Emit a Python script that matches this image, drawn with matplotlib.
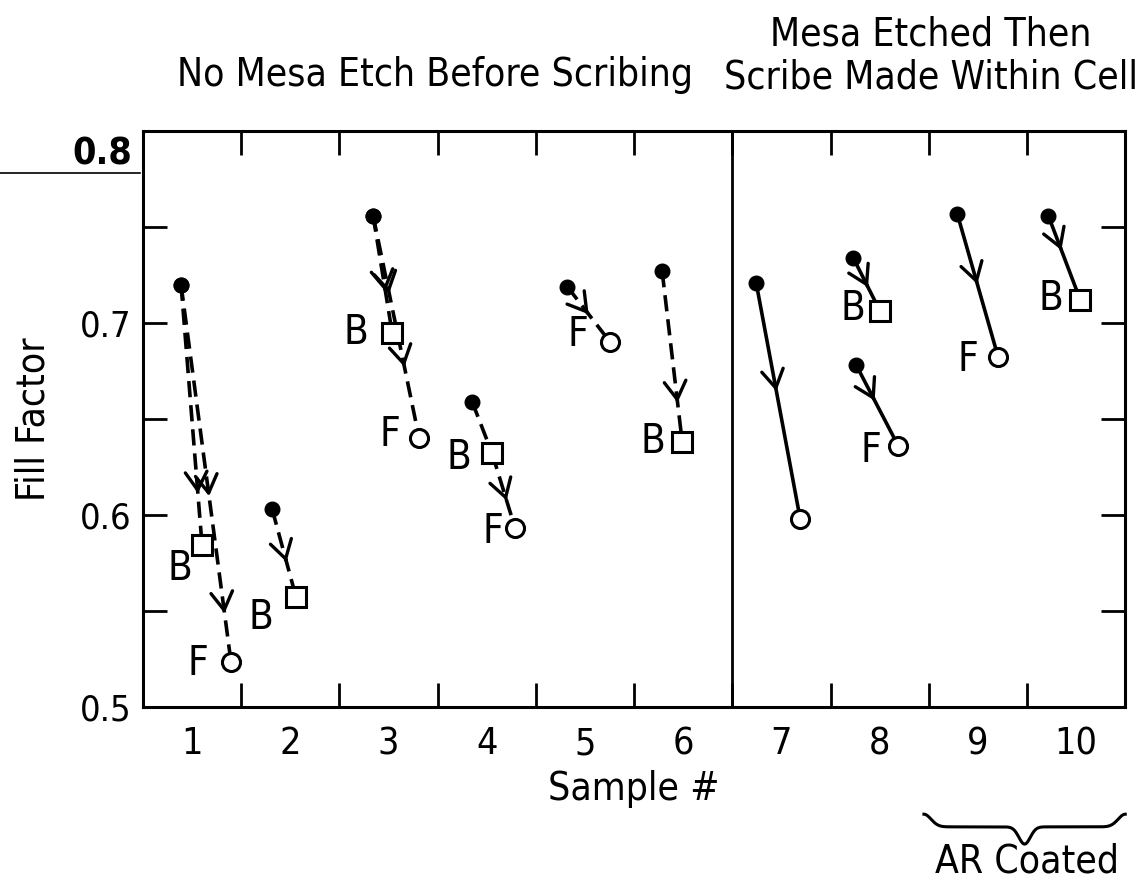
import numpy as np
import matplotlib.pyplot as plt
from matplotlib.lines import Line2D

plt.rcParams['font.family'] = ['DejaVu Sans']
plt.rcParams['font.stretch'] = 'condensed'

# Fill factor before (filled dot) and after (square = back, circle = front scribe)
# each entry: start x, start y, end x, end y
seg_x0 = [0.887, 0.887, 1.814, 2.842, 2.842, 3.850, 4.054, 4.818, 5.785,
          6.742, 7.730, 7.761, 8.789, 9.716]
seg_y0 = [0.720, 0.720, 0.603, 0.756, 0.756, 0.659, 0.632, 0.719, 0.727,
          0.721, 0.734, 0.678, 0.757, 0.756]
seg_x1 = [1.101, 1.396, 2.058, 3.036, 3.311, 4.054, 4.288, 5.256, 5.989,
          7.190, 8.005, 8.188, 9.207, 10.042]
seg_y1 = [0.584, 0.523, 0.557, 0.695, 0.640, 0.632, 0.593, 0.690, 0.638,
          0.598, 0.706, 0.636, 0.682, 0.712]
seg_end = ['B', 'F', 'B', 'B', 'F', 'B', 'F', 'F', 'B',
           'F', 'B', 'F', 'F', 'B']
seg_dot = [True] * 6 + [False] + [True] * 7
seg_solid = [False] * 9 + [True] * 5
# arrow head positions as fraction along each segment
seg_arrows = [[0.8], [0.56, 0.87], [0.6], [0.65], [0.35, 0.68], [], [0.63],
              [0.5], [0.77], [0.46], [0.55], [0.44], [0.49], [0.41]]
# offset (points) of the B/F letter from the segment end
lab_off = [(-16, -17), (-24, -1), (-25, -15), (-26, 0), (-21, 2), (-24, -3),
           (-16, -3), (-23, 5), (-21, 0), None, (-20, 2), (-20, -4),
           (-22, -2), (-21, 1)]

samples = list(range(1, 11))
yticks = [0.5, 0.6, 0.7, 0.8]

fig = plt.figure(figsize=(11.48, 8.86), dpi=100)
ax = fig.add_axes([0.1246, 0.2025, 0.8556, 0.6495])
ax.set_xlim(0.5, 10.5)
ax.set_ylim(0.5, 0.8)

for i in range(len(seg_x0)):
    ls = '-' if seg_solid[i] else (0, (4.5, 2.2))
    ax.plot([seg_x0[i], seg_x1[i]], [seg_y0[i], seg_y1[i]], color='black',
            lw=2.6, ls=ls, zorder=2, solid_capstyle='butt')
    for f in seg_arrows[i]:
        tx = seg_x0[i] + f * (seg_x1[i] - seg_x0[i])
        ty = seg_y0[i] + f * (seg_y1[i] - seg_y0[i])
        sx = seg_x0[i] + (f - 0.02) * (seg_x1[i] - seg_x0[i])
        sy = seg_y0[i] + (f - 0.02) * (seg_y1[i] - seg_y0[i])
        ax.annotate('', xy=(tx, ty), xytext=(sx, sy),
                    arrowprops=dict(arrowstyle='->,head_length=0.5,head_width=0.3',
                                    lw=2.4, color='black', shrinkA=0, shrinkB=0,
                                    mutation_scale=26), zorder=3)
    if seg_dot[i]:
        ax.plot(seg_x0[i], seg_y0[i], 'o', ms=10.5, color='black', zorder=4)
    if seg_end[i] == 'B':
        ax.plot(seg_x1[i], seg_y1[i], 's', ms=14, mfc='white', mec='black',
                mew=2.2, zorder=4)
    else:
        ax.plot(seg_x1[i], seg_y1[i], 'o', ms=13, mfc='white', mec='black',
                mew=2.2, zorder=4)
    if lab_off[i] is not None:
        ax.annotate(seg_end[i], (seg_x1[i], seg_y1[i]), xytext=lab_off[i],
                    textcoords='offset points', ha='center', va='center',
                    fontsize=29)

ax.axvline(6.5, color='black', lw=2)

ax.set_xticks(samples)
ax.set_xticklabels([str(s) for s in samples], fontsize=27)
ax.set_xticks(np.arange(1.5, 10.5, 1.0), minor=True)
ax.set_yticks(yticks)
ax.set_yticklabels([str(v) for v in yticks[:-1]] + [''], fontsize=26)
ax.set_yticks([0.55, 0.65, 0.75], minor=True)
ax.tick_params(axis='x', which='major', length=0, pad=14)
ax.tick_params(axis='x', which='minor', direction='in', length=17, width=2,
               top=True, bottom=True)
ax.tick_params(axis='y', which='both', direction='in', length=17, width=2,
               left=True, right=True, pad=8)
for s in ax.spines.values():
    s.set_linewidth(2.2)

# the top label sits a little low in the original
ax.annotate(str(yticks[-1]), (0, yticks[-1]), xycoords=('axes fraction', 'data'),
            xytext=(-8, -17), textcoords='offset points', ha='right',
            va='center', fontsize=27, fontweight='bold')

ax.set_xlabel('Sample #', fontsize=28, labelpad=6)
ax.set_ylabel('Fill Factor', fontsize=28, labelpad=20)

fig.text(0.379, 0.915, 'No Mesa Etch Before Scribing', ha='center', va='center',
         fontsize=28)
fig.text(0.811, 0.937, 'Mesa Etched Then\nScribe Made Within Cell', ha='center',
         va='center', fontsize=28, linespacing=1.15)

# stray rule under the 0.8 label
fig.add_artist(Line2D([0.0, 0.122], [0.805, 0.805], color='black', lw=1.2))

# brace under samples 9 and 10
bx = np.linspace(8.45, 10.5, 200)
t = (bx - 8.45) / 2.05
by = -0.187 - 0.022 * (1 - np.exp(-(t / 0.05) ** 2) - np.exp(-((1 - t) / 0.05) ** 2)) \
     - 0.03 * np.exp(-((t - 0.5) / 0.04) ** 2)
ax.plot(bx, by, color='black', lw=2.2, transform=ax.get_xaxis_transform(),
        clip_on=False)
ax.text(9.5, -0.27, 'AR Coated', transform=ax.get_xaxis_transform(),
        ha='center', va='center', fontsize=28)

fig.savefig('out.png', dpi=100)
